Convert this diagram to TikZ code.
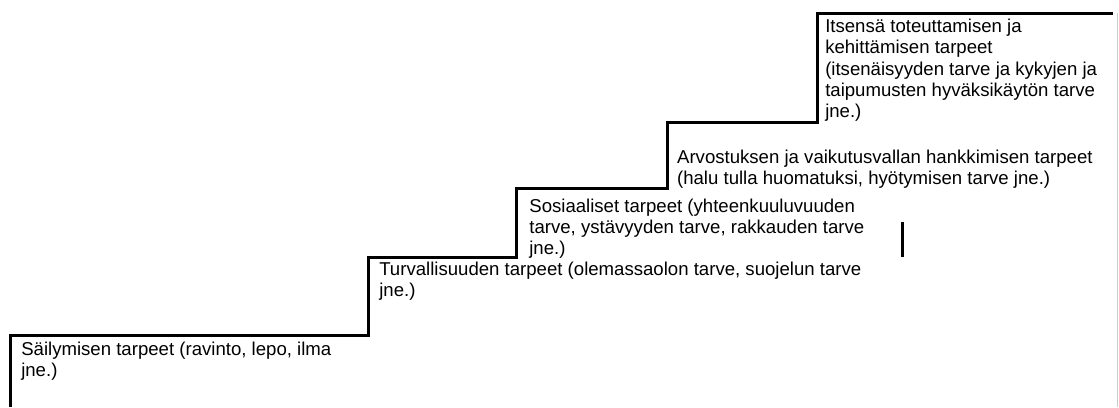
\documentclass[tikz,border=0pt]{standalone}
\usepackage{fontspec}
\setmainfont{Liberation Sans}
\begin{document}
\begin{tikzpicture}[need/.style={anchor=base west,align=left,inner sep=0pt,font=\fontsize{14}{16.1}\selectfont},
    stair/.style={line width=2.25pt}]
        \useasboundingbox (0,0) rectangle (29.61,10.77);
        \coordinate (A) at (0.29,0);
        \coordinate (B) at (0.29,1.905);
        \coordinate (C) at (9.74,1.905);
        \coordinate (D) at (9.74,3.969);
        \coordinate (E) at (13.68,3.969);
        \coordinate (F) at (13.68,5.794);
        \coordinate (G) at (17.65,5.794);
        \coordinate (H) at (17.65,7.541);
        \coordinate (I) at (21.62,7.541);
        \coordinate (J) at (21.62,10.425);
        \coordinate (K) at (29.45,10.425);
        
        \coordinate (U) at (23.87,4.895);
        \coordinate (V) at (23.87,3.969);
        
        \coordinate (P) at (29.57,10.425);
        \coordinate (Q) at (29.57,0);
        
        % anchor is the baseline of the last line
        \node[need] (S1) at (0.556,0.807) {Säilymisen tarpeet (ravinto, lepo, ilma\\jne.)};
        \node[need] (S2) at (10.03,2.924) {Turvallisuuden tarpeet (olemassaolon tarve, suojelun tarve\\jne.)};
        \node[need] (S3) at (14.0,4.024) {Sosiaaliset tarpeet (yhteenkuuluvuuden\\tarve, ystävyyden tarve, rakkauden tarve\\jne.)};
        \node[need] (S4) at (17.91,5.887) {Arvostuksen ja vaikutusvallan hankkimisen tarpeet\\(halu tulla huomatuksi, hyötymisen tarve jne.)};
        \node[need] (S5) at (21.83,7.65) {Itsensä toteuttamisen ja\\kehittämisen tarpeet\\(itsenäisyyden tarve ja kykyjen ja\\taipumusten hyväksikäytön tarve\\jne.)};
        
        \draw[stair] (A) -- (B) -- (C) -- (D) -- (E) -- (F) -- (G) -- (H) -- (I) -- (J) -- (K);
        \draw[stair] (U) -- (V);
        \draw[gray!40,line width=0.5pt] (P) -- (Q);
\end{tikzpicture}
\end{document}
